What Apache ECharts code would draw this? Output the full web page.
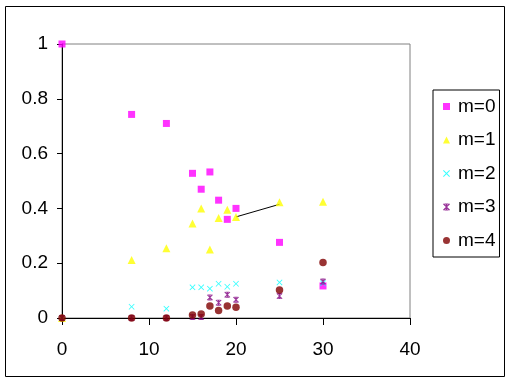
<!DOCTYPE html>
<html><head><meta charset="utf-8">
<script src="https://cdn.jsdelivr.net/npm/echarts@6/dist/echarts.min.js"></script>
<style>html,body{margin:0;padding:0;background:#fff}#c{width:512px;height:384px}</style>
</head><body><div id="c"></div>
<script>
var xVals = [0, 8, 12, 15, 16, 17, 18, 19, 20, 25, 30];
var m0 = [1, 0.743, 0.71, 0.528, 0.47, 0.533, 0.43, 0.36, 0.40, 0.276, 0.117];
var m1 = [0, 0.212, 0.255, 0.345, 0.40, 0.25, 0.365, 0.395, 0.369, 0.422, 0.424];
var m2 = [0, 0.041, 0.034, 0.112, 0.112, 0.107, 0.125, 0.114, 0.125, 0.130, 0.127];
var m3 = [0, 0, 0, 0.004, 0.004, 0.075, 0.056, 0.085, 0.067, 0.08, 0.133];
var m4 = [0, 0, 0, 0.011, 0.015, 0.044, 0.027, 0.044, 0.039, 0.102, 0.203];
var lineX = [20, 25];
var lineY = [0.369, 0.415];
var names = ['m=0', 'm=1', 'm=2', 'm=3', 'm=4'];
var xTicks = [0, 10, 20, 30, 40];
var yTicks = [0, 0.2, 0.4, 0.6, 0.8, 1];

function pairs(xs, ys) { return xs.map(function (x, i) { return [x, ys[i]]; }); }
var crossPath = 'path://M0,1L1,0L5,4L9,0L10,1L6,5L10,9L9,10L5,6L1,10L0,9L4,5Z';
var starPath = 'path://M0,1L1,0L5,4L9,0L10,1L6,5L10,9L9,10L5,6L1,10L0,9L4,5Z M4,0L6,0L6,10L4,10Z M2,0L8,0L8,1.5L2,1.5Z M2,8.5L8,8.5L8,10L2,10Z';
var font = 'Liberation Sans, Arial, sans-serif';

var chart = echarts.init(document.getElementById('c'), null, { renderer: 'canvas' });
chart.setOption({
  animation: false,
  backgroundColor: '#fff',
  graphic: [{ type: 'rect', shape: { x: 5.5, y: 6.5, width: 499, height: 370 }, style: { fill: 'none', stroke: '#000', lineWidth: 1 } }],
  grid: { left: 62, top: 44, width: 348, height: 274, show: true, borderColor: '#808080', borderWidth: 1, backgroundColor: '#fff' },
  xAxis: {
    type: 'value', min: 0, max: 40, interval: 10,
    axisLine: { lineStyle: { color: '#000', width: 1 } },
    axisTick: { show: true, length: 7, lineStyle: { color: '#000' } },
    axisLabel: { color: '#000', fontSize: 19, fontFamily: font, margin: 22,
      formatter: function (v) { return xTicks.indexOf(v) >= 0 ? String(v) : ''; } },
    splitLine: { show: false }
  },
  yAxis: {
    type: 'value', min: 0, max: 1, interval: 0.2,
    axisLine: { show: true, lineStyle: { color: '#000', width: 1 } },
    axisTick: { show: true, length: 5, lineStyle: { color: '#000' } },
    axisLabel: { color: '#000', fontSize: 19, fontFamily: font, margin: 14,
      formatter: function (v) { var r = Math.round(v * 10) / 10; return yTicks.indexOf(r) >= 0 ? String(r) : ''; } },
    splitLine: { show: false }
  },
  legend: {
    orient: 'vertical', left: 433, top: 90,
    data: names,
    itemWidth: 7, itemHeight: 7, itemGap: 14.5,
    padding: [7, 4, 7, 10],
    borderColor: '#000', borderWidth: 1,
    textStyle: { color: '#000', fontSize: 19, fontFamily: font, padding: [0, 0, 0, 3] }
  },
  series: [
    { name: 'm=0', type: 'scatter', symbol: 'rect', symbolSize: 7, clip: false, itemStyle: { color: '#FF00FF' }, data: pairs(xVals, m0), z: 3 },
    { name: 'm=1', type: 'scatter', symbol: 'triangle', symbolSize: [8, 8], clip: false, itemStyle: { color: '#FFFF00' }, data: pairs(xVals, m1), z: 3 },
    { name: 'm=2', type: 'scatter', symbol: crossPath, symbolSize: 6, clip: false, itemStyle: { color: '#00FFFF' }, data: pairs(xVals, m2), z: 3 },
    { name: 'm=3', type: 'scatter', symbol: starPath, symbolSize: 6, clip: false, itemStyle: { color: '#800080' }, data: pairs(xVals, m3), z: 3 },
    { name: 'm=4', type: 'scatter', symbol: 'circle', symbolSize: 7.5, clip: false, itemStyle: { color: '#800000' }, data: pairs(xVals, m4), z: 3 },
    { name: 'line', type: 'line', showSymbol: false, symbol: 'none', lineStyle: { color: '#000', width: 1 }, data: pairs(lineX, lineY), z: 2, silent: true }
  ]
});
</script></body></html>
